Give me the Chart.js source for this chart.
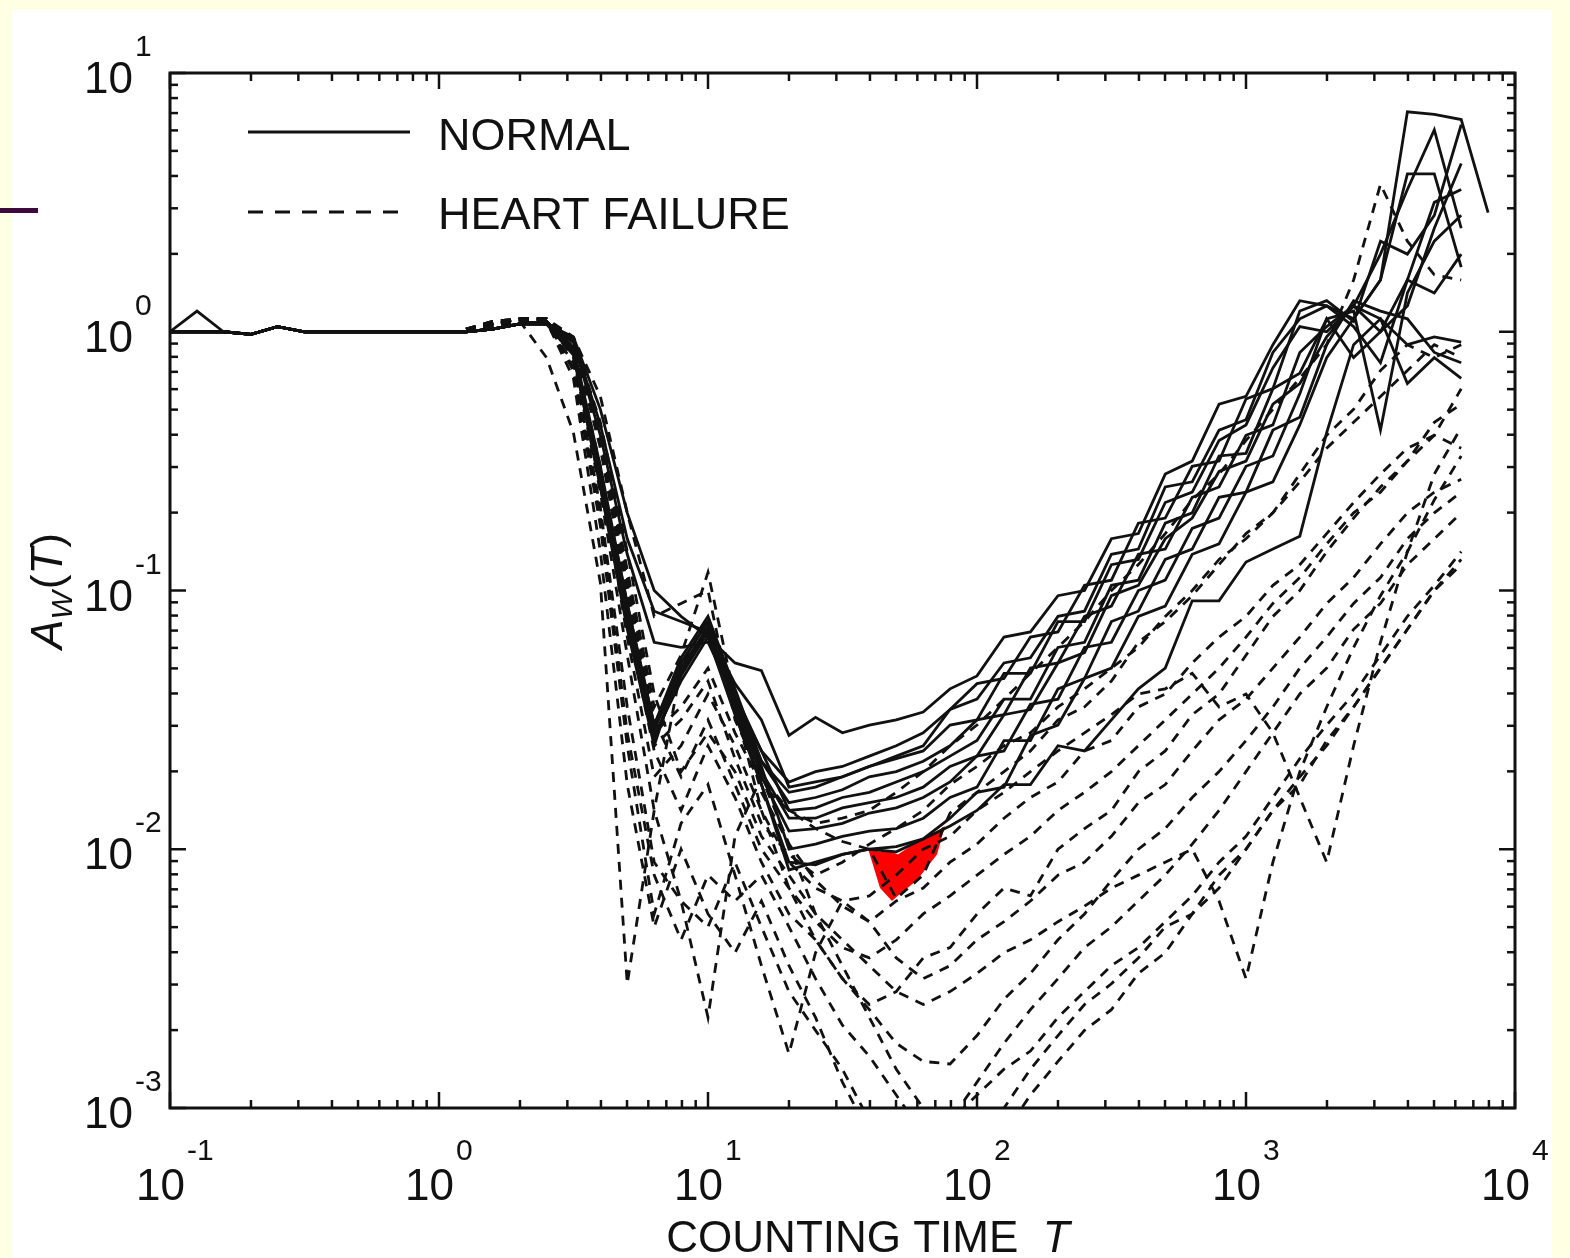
<!DOCTYPE html>
<html lang="en">
<head>
<meta charset="UTF-8">
<title>A_W(T) vs counting time</title>
<script src="https://cdn.jsdelivr.net/npm/chart.js"></script>
<style>
  html, body { margin: 0; padding: 0; background: #ffffe3; }
  body { width: 1570px; height: 1258px; position: relative; overflow: hidden; }
  .sheet { position: absolute; left: 12px; top: 10px; width: 1540px; height: 1248px; background: #fff; }
  .bar { position: absolute; left: 0; top: 208px; width: 38px; height: 5px; background: #3d0a3d; }
  .chart-box { position: absolute; left: 0; top: 0; width: 1570px; height: 1258px; }
</style>
</head>
<body>
<div class="sheet"></div>
<div class="bar"></div>
<div class="chart-box"><canvas id="awChart"></canvas></div>
<script>
// counting time grid (T), 10 points per decade
const countingTime = [
  0.1, 0.126, 0.158, 0.2, 0.251, 0.316, 0.398, 0.501, 0.631, 0.794,
  1, 1.26, 1.58, 2, 2.51, 3.16, 3.98, 5.01, 6.31, 7.94,
  10, 12.6, 15.8, 20, 25.1, 31.6, 39.8, 50.1, 63.1, 79.4,
  100, 126, 158, 200, 251, 316, 398, 501, 631, 794,
  1000, 1259, 1585, 1995, 2512, 3162, 3981, 5012, 6310, 7943
];

// all values below are log10 A_W(T)
// normal subjects: head from T = 0.1, body from T = 2.51
const spikeHead = [0, 0.08, 0, -0.01, 0.02, 0, 0, 0, 0, 0, 0, 0, 0.01, 0.03];
const flatHead  = [0, 0, 0, -0.01, 0.02, 0, 0, 0, 0, 0, 0, 0, 0.01, 0.03];

const normal1 = [0.03, -0.02, -0.30, -0.70, -1.00, -1.10, -1.18, -1.28, -1.31,
  -1.56, -1.49, -1.55, -1.52, -1.50, -1.47, -1.38, -1.33, -1.18, -1.16, -1.02, -1.00, -0.80,
  -0.78, -0.55, -0.50, -0.28, -0.25, -0.05, 0.12, 0.10, 0.02, -0.12, 0.20, 0.15, 0.30];
const normal2 = [0.03, -0.03, -0.36, -0.80, -1.08, -1.12, -1.16, -1.36, -1.50,
  -1.76, -1.74, -1.72, -1.68, -1.65, -1.62, -1.52, -1.50, -1.32, -1.32, -1.12, -1.12, -0.90,
  -0.88, -0.66, -0.62, -0.42, -0.36, -0.14, 0.02, 0.00, 0.10, 0.05, -0.05, -0.02, -0.04];
const normal3 = [0.04, -0.06, -0.52, -1.05, -1.52, -1.28, -1.12, -1.40, -1.62,
  -1.74, -1.70, -1.68, -1.64, -1.60, -1.55, -1.46, -1.36, -1.34, -1.18, -1.16, -0.98, -0.96,
  -0.74, -0.72, -0.52, -0.50, -0.26, -0.22, 0.08, 0.12, 0.04, 0.35, 0.30, 0.45, 0.80];
const normal4 = [0.04, -0.08, -0.58, -1.10, -1.58, -1.32, -1.14, -1.45, -1.70,
  -1.88, -1.88, -1.84, -1.82, -1.80, -1.76, -1.68, -1.64, -1.48, -1.46, -1.28, -1.24, -1.02,
  -0.98, -0.80, -0.72, -0.54, -0.50, -0.28, -0.20, -0.02, 0.10, 0.30, 0.55, 0.78, 0.40];
const normal5 = [0.03, -0.09, -0.60, -1.15, -1.60, -1.28, -1.12, -1.42, -1.72,
  -1.93, -1.92, -1.90, -1.86, -1.84, -1.80, -1.74, -1.64, -1.62, -1.44, -1.42, -1.22, -1.20,
  -1.00, -0.96, -0.76, -0.72, -0.52, -0.48, -0.24, 0.05, -0.10, 0.00, 0.20, 0.50, 0.55];
const normal6 = [0.04, -0.07, -0.56, -1.08, -1.56, -1.35, -1.18, -1.48, -1.75,
  -2.08, -2.05, -2.02, -2.00, -1.99, -1.96, -1.88, -1.78, -1.76, -1.56, -1.52, -1.34, -1.30,
  -1.10, -1.06, -0.86, -0.82, -0.62, -0.58, -0.36, -0.10, 0.05, 0.20, 0.85, 0.84, 0.82, 0.46];
const normal7 = [0.04, -0.08, -0.60, -1.12, -1.58, -1.30, -1.15, -1.45, -1.75,
  -2.05, -2.06, -2.02, -2.00, -2.01, -1.96, -1.91, -1.85, -1.75, -1.75, -1.60, -1.62, -1.50,
  -1.38, -1.30, -1.04, -1.04, -0.89, -0.84, -0.79, -0.39, -0.05, 0.05, -0.20, -0.10, -0.18];
const normal8 = [0.04, -0.07, -0.54, -1.06, -1.52, -1.26, -1.10, -1.38, -1.66,
  -1.82, -1.80, -1.77, -1.72, -1.70, -1.66, -1.60, -1.50, -1.48, -1.30, -1.28, -1.10, -1.06,
  -0.86, -0.84, -0.64, -0.60, -0.40, -0.36, -0.08, 0.02, 0.10, 0.00, 0.10, 0.40, 0.65];
const normal9 = [0.03, -0.04, -0.40, -0.86, -1.20, -1.22, -1.20, -1.42, -1.62,
  -1.85, -1.84, -1.80, -1.78, -1.74, -1.70, -1.64, -1.58, -1.42, -1.42, -1.22, -1.20, -0.98,
  -0.96, -0.74, -0.70, -0.48, -0.47, -0.22, -0.16, 0.05, 0.08, -0.38, 0.15, 0.35, 0.45];
const normal10 = [0.04, -0.07, -0.55, -1.07, -1.57, -1.33, -1.16, -1.44, -1.68,
  -2.00, -1.98, -1.95, -1.93, -1.92, -1.88, -1.80, -1.76, -1.58, -1.58, -1.38, -1.34, -1.12,
  -1.08, -0.88, -0.84, -0.64, -0.62, -0.38, -0.33, -0.05, 0.12, 0.08, 0.05, -0.08, -0.12];
const normal11 = [0.04, -0.07, -0.54, -1.05, -1.54, -1.30, -1.14, -1.42, -1.66,
  -1.78, -1.76, -1.72, -1.68, -1.64, -1.60, -1.46, -1.42, -1.28, -1.26, -1.10, -1.08, -0.86,
  -0.84, -0.60, -0.58, -0.38, -0.34, -0.08, 0.05, 0.10, 0.05, 0.20, 0.61, 0.61, 0.25];

// heart failure patients: from T = 1.26
const heartFailure1 = [0.00, 0.03, 0.04, -0.10, -0.39, -0.97, -2.52, -1.85, -1.30, -1.10,
  -1.45, -1.85, -2.15, -2.35, -2.50, -2.60, -2.55, -2.42, -2.38, -2.25,
  -2.15, -2.18, -2.00, -1.92, -1.85, -1.70, -1.62, -1.48, -1.40, -1.25,
  -1.10, -1.00, -0.85, -0.72, -0.60, -0.50, -0.35, -0.28];
const heartFailure2 = [0.01, 0.04, 0.05, 0.04, -0.10, -0.62, -1.25, -1.85, -2.20, -2.65,
  -1.95, -1.72, -1.98, -2.25, -2.45, -2.65, -2.85, -3.00, -3.15, -3.20,
  -3.10, -2.95, -2.82, -2.70, -2.62, -2.48, -2.40, -2.25, -2.15, -2.00,
  -1.85, -1.75, -1.58, -1.45, -1.30, -1.15, -1.00, -0.88];
const heartFailure3 = [0.00, 0.02, 0.05, 0.05, -0.03, -0.38, -0.92, -1.45, -1.25, -0.93,
  -1.42, -1.78, -1.98, -2.12, -2.22, -2.28, -2.20, -2.15, -2.05, -1.98,
  -1.88, -1.80, -1.74, -1.62, -1.58, -1.45, -1.40, -1.28, -1.18, -1.10,
  -0.98, -0.90, -0.78, -0.66, -0.55, -0.45, -0.40, -0.22];
const heartFailure4 = [0.01, 0.03, 0.05, 0.05, -0.04, -0.42, -0.98, -1.55, -1.45, -1.30,
  -1.55, -1.75, -1.85, -1.92, -1.97, -2.00, -2.19, -2.10, -1.86, -1.78,
  -1.70, -1.62, -1.50, -1.45, -1.35, -1.20, -1.12, -1.02, -0.90, -0.78,
  -0.70, -0.55, -0.40, -0.30, -0.15, -0.05, -0.10, -0.05];
const heartFailure5 = [0.00, 0.03, 0.04, 0.04, -0.15, -0.75, -1.60, -2.25, -1.90, -1.75,
  -2.10, -2.45, -2.79, -2.40, -2.20, -2.28, -2.42, -2.50, -2.45, -2.35,
  -2.28, -2.20, -2.10, -2.05, -1.95, -1.82, -1.75, -1.62, -1.50, -1.42,
  -1.30, -1.18, -1.05, -0.95, -0.82, -0.70, -0.62, -0.57];
const heartFailure6 = [0.01, 0.04, 0.05, 0.05, -0.06, -0.52, -1.12, -1.62, -1.85, -1.60,
  -1.80, -2.05, -2.25, -2.35, -2.50, -2.62, -2.75, -2.82, -2.83, -2.72,
  -2.58, -2.48, -2.35, -2.25, -2.12, -2.00, -1.92, -1.80, -1.70, -1.58,
  -1.45, -1.30, -1.18, -1.05, -0.95, -0.80, -0.70, -0.62];
const heartFailure7 = [0.00, 0.02, 0.04, 0.03, -0.12, -0.68, -1.45, -2.05, -2.20, -2.30,
  -2.05, -2.30, -2.55, -2.70, -2.85, -3.05, -3.20, -3.30, -3.25, -3.15,
  -3.00, -2.85, -2.72, -2.60, -2.52, -2.42, -2.30, -2.25, -2.10, -2.00,
  -1.85, -1.72, -1.60, -1.45, -1.30, -1.15, -1.00, -0.90];
const heartFailure8 = [0.01, 0.03, 0.05, 0.05, -0.03, -0.35, -0.85, -1.40, -1.70, -1.55,
  -1.70, -1.95, -2.10, -2.25, -2.35, -2.45, -2.55, -2.60, -2.55, -2.48,
  -2.40, -2.35, -2.28, -2.22, -2.15, -2.10, -2.05, -2.00, -2.20, -2.50,
  -2.05, -1.70, -1.45, -1.22, -1.02, -0.85, -0.65, -0.48];
const heartFailure9 = [0.00, 0.03, 0.05, 0.05, -0.07, -0.55, -1.18, -1.72, -1.60, -1.40,
  -1.60, -1.85, -2.05, -2.15, -2.20, -2.18, -2.10, -2.00, -1.95, -1.85,
  -1.78, -1.70, -1.62, -1.55, -1.48, -1.40, -1.38, -1.32, -1.45, -1.40,
  -1.55, -1.80, -2.05, -1.60, -1.20, -0.85, -0.55, -0.37];
const heartFailure10 = [0.01, 0.04, 0.05, 0.05, -0.02, -0.25, -0.70, -1.10, -1.05, -1.00,
  -1.50, -1.72, -1.85, -1.90, -1.88, -1.85, -1.78, -1.70, -1.60, -1.52,
  -1.42, -1.32, -1.22, -1.12, -1.00, -0.90, -0.78, -0.65, -0.55, -0.42,
  -0.30, -0.18, -0.05, 0.20, 0.57, 0.35, 0.22, 0.20];
const heartFailure11 = [0.00, 0.02, 0.04, 0.04, -0.14, -0.72, -1.55, -2.10, -2.35, -2.10,
  -2.20, -2.10, -2.30, -2.50, -2.68, -2.80, -2.95, -3.10, -3.05, -2.90,
  -2.75, -2.62, -2.50, -2.38, -2.30, -2.20, -2.10, -1.98, -1.85, -1.70,
  -1.55, -1.40, -1.30, -1.15, -1.05, -0.90, -0.80, -0.70];
const heartFailure12 = [0.01, 0.03, 0.05, 0.05, -0.03, -0.40, -0.95, -1.50, -1.72, -1.50,
  -1.75, -2.00, -2.15, -2.28, -2.38, -2.42, -2.35, -2.25, -2.18, -2.10,
  -2.02, -1.95, -1.85, -1.78, -1.70, -1.60, -1.50, -1.40, -1.30, -1.18,
  -1.05, -0.95, -0.82, -0.70, -0.62, -0.50, -0.40, -0.45];
const heartFailure13 = [0.00, 0.03, 0.04, 0.04, -0.18, -0.85, -1.75, -2.30, -2.00, -2.25,
  -2.40, -2.20, -2.45, -2.65, -2.90, -3.10, -3.25, -3.20, -3.05, -2.95,
  -2.85, -2.78, -2.65, -2.55, -2.45, -2.38, -2.28, -2.18, -2.05, -1.95,
  -1.80, -1.65, -1.52, -1.40, -1.25, -1.10, -0.98, -0.85];
const heartFailure14 = [0.01, 0.03, 0.05, 0.05, -0.04, -0.45, -1.02, -1.60, -1.50, -1.35,
  -1.65, -1.90, -2.02, -2.10, -2.05, -1.98, -1.92, -1.85, -1.75, -1.68,
  -1.60, -1.55, -1.45, -1.38, -1.30, -1.22, -1.10, -1.00, -0.88, -0.80,
  -0.70, -0.58, -0.45, -0.35, -0.25, -0.15, -0.05, -0.10];

// red gap between the lowest normal and the highest heart failure curve
const gapT = [39.4, 43.6, 48.3, 50.8, 59.8, 71.0, 76.0];
const gapUpper = [-2.00, -2.01, -2.01, -2.02, -1.97, -1.93, -1.91];
const gapLower = [-2.00, -2.15, -2.20, -2.18, -2.12, -2.02, -1.91];

const xDecades = [-1, 0, 1, 2, 3, 4];
const yDecades = [-3, -2, -1, 0, 1];

const FONT = "'Liberation Sans', Arial, Helvetica, sans-serif";
const INK = '#111';

function toPoints(logValues, firstIndex) {
  return logValues.map((v, k) => ({ x: countingTime[firstIndex + k], y: Math.pow(10, v) }));
}

const normals = [
  spikeHead.concat(normal1), flatHead.concat(normal2), flatHead.concat(normal3),
  flatHead.concat(normal4), flatHead.concat(normal5), flatHead.concat(normal6),
  flatHead.concat(normal7), flatHead.concat(normal8), flatHead.concat(normal9),
  flatHead.concat(normal10), flatHead.concat(normal11)
];
const failures = [heartFailure1, heartFailure2, heartFailure3, heartFailure4, heartFailure5,
  heartFailure6, heartFailure7, heartFailure8, heartFailure9, heartFailure10,
  heartFailure11, heartFailure12, heartFailure13, heartFailure14];

const datasets = [];
normals.forEach((s, i) => datasets.push({
  label: 'normal ' + (i + 1),
  data: toPoints(s, 0),
  borderColor: INK, borderWidth: 2.8, pointRadius: 0, tension: 0, fill: false
}));
failures.forEach((s, i) => datasets.push({
  label: 'heart failure ' + (i + 1),
  data: toPoints(s, 11),
  borderColor: INK, borderWidth: 2.8, borderDash: [10, 8], pointRadius: 0, tension: 0, fill: false
}));
datasets.push({
  label: 'gap top',
  data: gapT.map((t, k) => ({ x: t, y: Math.pow(10, gapUpper[k]) })),
  borderColor: 'rgba(0,0,0,0)', borderWidth: 0, pointRadius: 0, fill: false
});
datasets.push({
  label: 'gap',
  data: gapT.map((t, k) => ({ x: t, y: Math.pow(10, gapLower[k]) })),
  borderColor: 'rgba(0,0,0,0)', borderWidth: 0, pointRadius: 0,
  fill: '-1', backgroundColor: '#ff0000'
});

// frame, inward ticks, power-of-ten labels, titles and legend
const framePlugin = {
  id: 'frame',
  afterDatasetsDraw(chart) {
    const ctx = chart.ctx;
    const a = chart.chartArea;
    const xs = chart.scales.x, ys = chart.scales.y;
    ctx.save();
    ctx.strokeStyle = INK;
    ctx.fillStyle = INK;
    ctx.lineWidth = 3;
    ctx.setLineDash([]);
    ctx.strokeRect(a.left, a.top, a.right - a.left, a.bottom - a.top);

    ctx.lineWidth = 2.5;
    const tick = (x1, y1, x2, y2) => { ctx.beginPath(); ctx.moveTo(x1, y1); ctx.lineTo(x2, y2); ctx.stroke(); };
    xDecades.forEach(k => {
      for (let m = 1; m <= 9; m++) {
        if (k === 4 && m > 1) break;
        const px = xs.getPixelForValue(m * Math.pow(10, k));
        const len = m === 1 ? 16 : 8;
        tick(px, a.bottom, px, a.bottom - len);
        tick(px, a.top, px, a.top + len);
      }
    });
    yDecades.forEach(k => {
      for (let m = 1; m <= 9; m++) {
        if (k === 1 && m > 1) break;
        const py = ys.getPixelForValue(m * Math.pow(10, k));
        const len = m === 1 ? 16 : 8;
        tick(a.left, py, a.left + len, py);
        tick(a.right, py, a.right - len, py);
      }
    });

    // tick labels
    ctx.textBaseline = 'alphabetic';
    xDecades.forEach(k => {
      const px = xs.getPixelForValue(Math.pow(10, k));
      ctx.font = '44px ' + FONT;
      ctx.textAlign = 'right';
      ctx.fillText('10', px + 15, a.bottom + 92);
      ctx.font = '30px ' + FONT;
      ctx.textAlign = 'left';
      ctx.fillText(String(k), px + 17, a.bottom + 52);
    });
    yDecades.forEach(k => {
      const py = ys.getPixelForValue(Math.pow(10, k));
      ctx.font = '44px ' + FONT;
      ctx.textAlign = 'right';
      ctx.fillText('10', 133, py + 20);
      ctx.font = '30px ' + FONT;
      ctx.textAlign = 'left';
      ctx.fillText(String(k), 135, py - 17);
    });

    // x title
    ctx.font = '44px ' + FONT;
    const t1 = 'COUNTING TIME  ';
    const w1 = ctx.measureText(t1).width;
    ctx.font = 'italic 44px ' + FONT;
    const w2 = ctx.measureText('T').width;
    const x0 = 868 - (w1 + w2) / 2;
    ctx.textAlign = 'left';
    ctx.font = '44px ' + FONT;
    ctx.fillText(t1, x0, 1252);
    ctx.font = 'italic 44px ' + FONT;
    ctx.fillText('T', x0 + w1, 1252);

    // y title, rotated
    ctx.save();
    ctx.translate(62, 592);
    ctx.rotate(-Math.PI / 2);
    const parts = [
      { t: 'A', f: 'italic 44px ', dy: 0 },
      { t: 'W', f: 'italic 30px ', dy: 10 },
      { t: '(', f: '44px ', dy: 0 },
      { t: 'T', f: 'italic 44px ', dy: 0 },
      { t: ')', f: '44px ', dy: 0 }
    ];
    let total = 0;
    parts.forEach(p => { ctx.font = p.f + FONT; p.w = ctx.measureText(p.t).width; total += p.w; });
    let cx = -total / 2;
    parts.forEach(p => {
      ctx.font = p.f + FONT;
      ctx.fillText(p.t, cx, p.dy);
      cx += p.w + (p.t === 'W' ? 2 : 0);
    });
    ctx.restore();

    // legend
    ctx.lineWidth = 3;
    ctx.beginPath(); ctx.moveTo(248, 132); ctx.lineTo(410, 132); ctx.stroke();
    ctx.setLineDash([15, 12]);
    ctx.beginPath(); ctx.moveTo(248, 212); ctx.lineTo(400, 212); ctx.stroke();
    ctx.setLineDash([]);
    ctx.font = '45px ' + FONT;
    ctx.textAlign = 'left';
    ctx.fillText('NORMAL', 438, 150);
    ctx.fillText('HEART FAILURE', 438, 229);
    ctx.restore();
  }
};

new Chart(document.getElementById('awChart').getContext('2d'), {
  type: 'line',
  data: { datasets: datasets },
  options: {
    responsive: true,
    maintainAspectRatio: false,
    animation: false,
    layout: { padding: { left: 170, right: 55, top: 73, bottom: 150 } },
    scales: {
      x: { type: 'logarithmic', min: 0.1, max: 10000, display: false },
      y: { type: 'logarithmic', min: 0.001, max: 10, display: false }
    },
    plugins: {
      legend: { display: false },
      tooltip: { enabled: false }
    }
  },
  plugins: [framePlugin]
});
</script>
</body>
</html>
